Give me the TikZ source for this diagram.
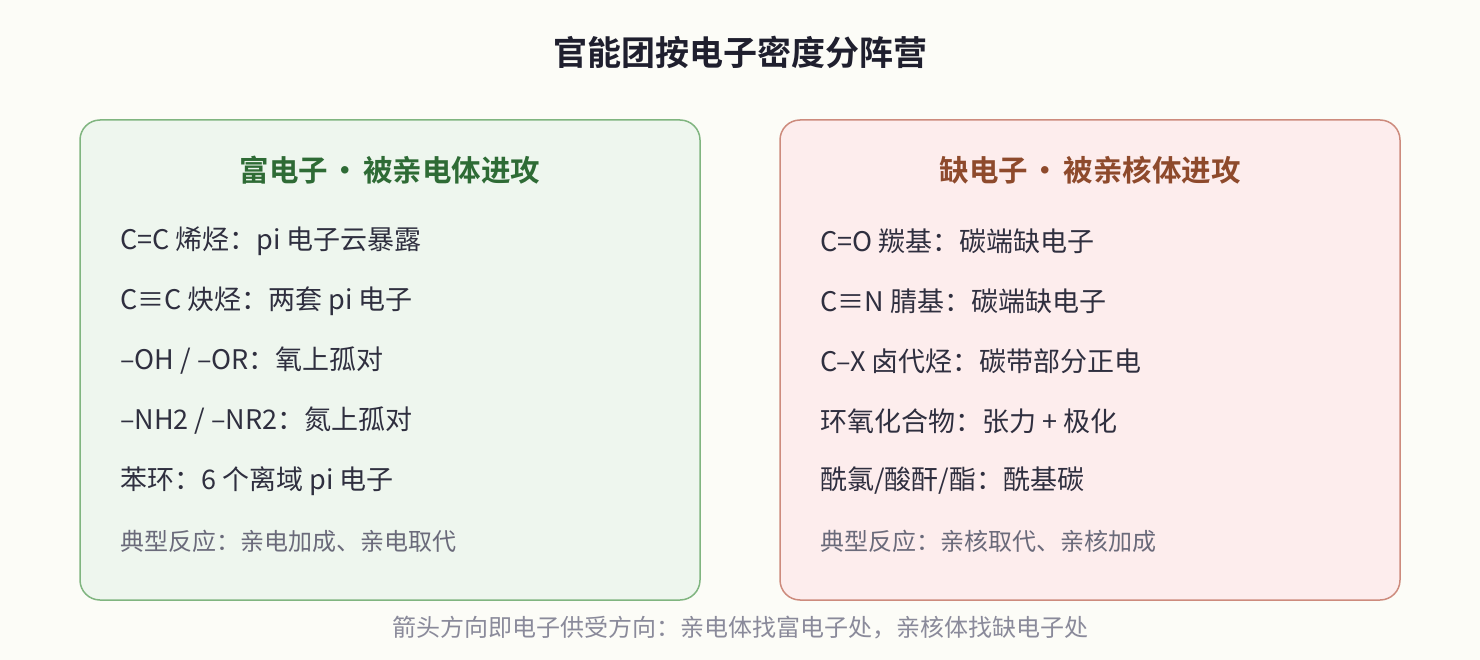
\documentclass[tikz,border=0pt]{standalone}
\usepackage{fontspec}
\setmainfont{Noto Sans CJK SC}
\newfontfamily\cjkb{Noto Sans CJK SC Bold}
\definecolor{bgc}{HTML}{FCFCF7}
\definecolor{lfill}{HTML}{EEF6EE}
\definecolor{lborder}{HTML}{80B580}
\definecolor{rfill}{HTML}{FDEDED}
\definecolor{rborder}{HTML}{CD8B7D}
\definecolor{ghead}{HTML}{2E6B35}
\definecolor{bhead}{HTML}{8E4A2C}
\definecolor{itemc}{HTML}{2F2F3F}
\definecolor{greyc}{HTML}{6A6A7A}
\definecolor{footc}{HTML}{8A8A9A}
\definecolor{titlec}{HTML}{1F1F2E}
\tikzset{
  panel/.style={rounded corners=20pt, line width=1.5pt},
  head/.style={font=\cjkb\fontsize{29.5}{34}\selectfont, inner sep=0pt},
  item/.style={anchor=west, inner sep=0pt, text=itemc, font=\fontsize{27}{32}\selectfont},
  note/.style={anchor=west, inner sep=0pt, text=greyc, font=\fontsize{24}{29}\selectfont},
}
\begin{document}
\begin{tikzpicture}[x=1pt,y=-1pt]
\fill[bgc] (0,0) rectangle (1480,660);
\useasboundingbox (0,0) rectangle (1480,660);
\node[inner sep=0pt, text=titlec, font=\cjkb\fontsize{34}{40}\selectfont] (title) at (740,52) {官能团按电子密度分阵营};
% left panel
\draw[panel, fill=lfill, draw=lborder] (80,120) rectangle (700,600);
\node[head, text=ghead] (lhead) at (390,170) {富电子{\kern3pt}・{\kern3pt}被亲电体进攻};
\node[item] (l1) at (120,241) {C=C 烯烃：pi 电子云暴露};
\node[item] (l2) at (120,301) {C≡C 炔烃：两套 pi 电子};
\node[item] (l3) at (120,361) {–OH / –OR：氧上孤对};
\node[item] (l4) at (120,421) {–NH2 / –NR2：氮上孤对};
\node[item] (l5) at (120,481) {苯环：6 个离域 pi 电子};
\node[note] (l6) at (120,541) {典型反应：亲电加成、亲电取代};
% right panel
\draw[panel, fill=rfill, draw=rborder] (780,120) rectangle (1400,600);
\node[head, text=bhead] (rhead) at (1090,170) {缺电子{\kern3pt}・{\kern3pt}被亲核体进攻};
\node[item] (r1) at (820,241) {C=O 羰基：碳端缺电子};
\node[item] (r2) at (820,301) {C≡N 腈基：碳端缺电子};
\node[item] (r3) at (820,361) {C–X 卤代烃：碳带部分正电};
\node[item] (r4) at (820,421) {环氧化合物：张力 + 极化};
\node[item] (r5) at (820,481) {酰氯/酸酐/酯：酰基碳};
\node[note] (r6) at (820,541) {典型反应：亲核取代、亲核加成};
\node[inner sep=0pt, text=footc, font=\fontsize{24}{29}\selectfont] (foot) at (740,628) {箭头方向即电子供受方向：亲电体找富电子处，亲核体找缺电子处};
\end{tikzpicture}
\end{document}
